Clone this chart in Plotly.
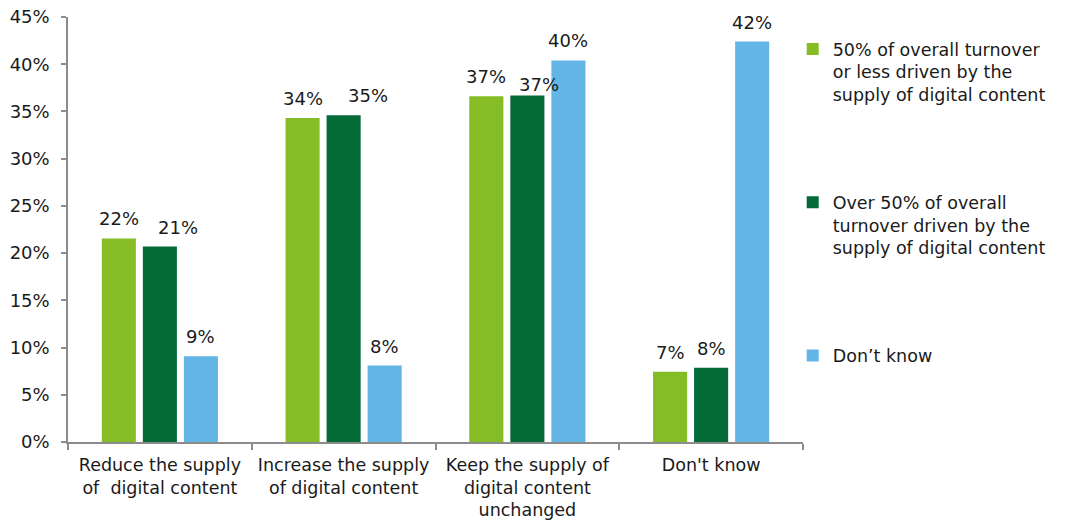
import plotly.graph_objects as go

# Survey answers (x categories)
categories = [
    "Reduce the supply<br>of  digital content",
    "Increase the supply<br>of digital content",
    "Keep the supply of<br>digital content<br>unchanged",
    "Don't know",
]

# Respondent groups (series)
series_names = [
    "50% of overall turnover<br>or less driven by the<br>supply of digital content",
    "Over 50% of overall<br>turnover driven by the<br>supply of digital content",
    "Don’t know",
]

# Share of respondents, in percent
share_low_turnover = [21.55, 34.3, 36.6, 7.45]
share_high_turnover = [20.7, 34.6, 36.7, 7.85]
share_dont_know = [9.07, 8.1, 40.4, 42.4]

y_ticks = [0, 5, 10, 15, 20, 25, 30, 35, 40, 45]
y_tick_labels = ["0%", "5%", "10%", "15%", "20%", "25%", "30%", "35%", "40%", "45%"]

colors = ["#86BC25", "#046A38", "#62B5E5"]
FONT = "DejaVu Sans"
TEXT = "#1a1a1a"
AXIS = "#8c8c8c"
FS = 18

series_values = [share_low_turnover, share_high_turnover, share_dont_know]

fig = go.Figure()
for i, (name, vals) in enumerate(zip(series_names, series_values)):
    fig.add_trace(go.Bar(
        x=categories, y=vals, name=name,
        marker=dict(color=colors[i], line=dict(width=0)),
        legendgroup=f"g{i}",
    ))

# value labels above each bar; a few are nudged sideways to avoid crowding
slot_px = 41
label_nudge = {(1, 0): (18, 0), (1, 1): (24, 0), (1, 2): (12, -9)}
for i, vals in enumerate(series_values):
    for j, v in enumerate(vals):
        dx, dy = label_nudge.get((i, j), (0, 0))
        fig.add_annotation(
            x=categories[j], y=v, xref="x", yref="y",
            text=f"{v:.0f}%", showarrow=False,
            xanchor="center", yanchor="bottom",
            xshift=(i - 1) * slot_px + dx, yshift=7 + dy,
            font=dict(family=FONT, size=FS, color=TEXT),
        )

fig.update_layout(
    width=1069, height=520,
    margin=dict(l=68, r=266, t=17, b=78, autoexpand=False),
    paper_bgcolor="white", plot_bgcolor="white",
    barmode="group", bargap=0.33, bargroupgap=0.17,
    font=dict(family=FONT, size=FS, color=TEXT),
    showlegend=True,
    legend=dict(
        x=0.986, xanchor="left", y=0.967, yanchor="top",
        valign="top", tracegroupgap=82,
        font=dict(family=FONT, size=17.5, color=TEXT),
        bgcolor="rgba(0,0,0,0)",
    ),
    xaxis=dict(
        automargin=False, tickangle=0,
        showline=True, linecolor=AXIS, linewidth=1.5,
        ticks="outside", tickson="boundaries", ticklen=6, tickcolor=AXIS, tickwidth=1.5,
        showgrid=False, tickfont=dict(family=FONT, size=17.5, color=TEXT),
        ticklabelstandoff=6,
    ),
    yaxis=dict(
        automargin=False,
        range=[0, 45], tickvals=y_ticks, ticktext=y_tick_labels,
        showline=True, linecolor=AXIS, linewidth=1.5,
        ticks="outside", ticklen=5, tickcolor=AXIS, tickwidth=1.5,
        showgrid=False, zeroline=False,
        tickfont=dict(family=FONT, size=FS, color=TEXT),
        ticklabelstandoff=8,
    ),
)

fig.write_html("out.html")
